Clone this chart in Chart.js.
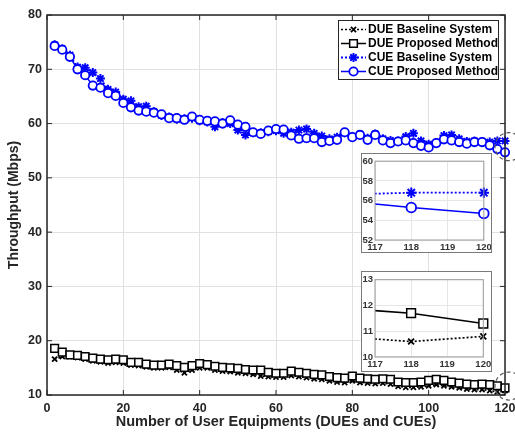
<!DOCTYPE html>
<html>
<head>
<meta charset="utf-8">
<script src="https://cdn.jsdelivr.net/npm/chart.js@4.4.1/dist/chart.umd.min.js"></script>
<style>
  html, body { margin: 0; padding: 0; background: #fff; }
  #wrap { position: relative; width: 515px; height: 432px; overflow: hidden; }
  #main { position: absolute; left: 0; top: 0; }
  .inset { position: absolute; background: #fff; border: 1px solid #7a7a7a; }
  .inset canvas { position: absolute; left: 0; top: 0; }
</style>
</head>
<body>
<div id="wrap">
  <canvas id="main" width="515" height="432"></canvas>
  <div class="inset" style="left:361px;top:153px;width:129px;height:98px"><canvas id="zoomCue" width="129" height="98"></canvas></div>
  <div class="inset" style="left:361px;top:271px;width:129px;height:99px"><canvas id="zoomDue" width="129" height="99"></canvas></div>
</div>
<script>
// number of UEs on the x axis
const userCounts = [2, 4, 6, 8, 10, 12, 14, 16, 18, 20, 22, 24, 26, 28, 30, 32, 34, 36, 38, 40,
  42, 44, 46, 48, 50, 52, 54, 56, 58, 60, 62, 64, 66, 68, 70, 72, 74, 76, 78, 80,
  82, 84, 86, 88, 90, 92, 94, 96, 98, 100, 102, 104, 106, 108, 110, 112, 114, 116, 118, 120];

// throughput in Mbps
const dueBaseline = [16.6, 17.1, 17.1, 16.9, 16.6, 16.3, 16.1, 15.9, 16.0, 15.9, 15.5, 15.4, 15.2, 15.0, 15.0, 15.1, 14.6, 14.1, 14.6, 15.0,
  15.0, 14.6, 14.4, 14.3, 14.1, 14.0, 13.8, 13.5, 13.4, 13.3, 13.3, 13.6, 13.4, 13.2, 13.0, 12.9, 12.6, 12.4, 12.3, 12.6,
  12.3, 12.2, 12.1, 12.2, 12.0, 11.6, 11.4, 11.4, 11.5, 11.7, 11.9, 11.7, 11.5, 11.3, 11.1, 11.0, 11.0, 10.8, 10.6, 10.8];
const dueProposed = [18.6, 17.9, 17.4, 17.3, 17.1, 16.8, 16.6, 16.5, 16.6, 16.5, 16.0, 16.0, 15.7, 15.5, 15.5, 15.7, 15.4, 15.1, 15.4, 15.8,
  15.6, 15.3, 15.1, 15.0, 14.9, 14.7, 14.6, 14.6, 14.2, 14.0, 14.0, 14.4, 14.2, 14.0, 13.8, 13.7, 13.4, 13.2, 13.1, 13.5,
  13.1, 13.0, 12.9, 13.0, 12.9, 12.4, 12.3, 12.3, 12.4, 12.7, 12.9, 12.7, 12.4, 12.2, 12.0, 11.9, 12.0, 11.9, 11.7, 11.3];
const cueBaseline = [74.5, 73.8, 72.6, 70.4, 70.3, 69.4, 68.3, 66.3, 65.8, 64.5, 64.2, 63.1, 63.2, 62.2, 61.5, 61.2, 60.8, 60.9, 61.0, 60.5,
  60.3, 59.4, 60.2, 60.0, 58.8, 57.9, 58.3, 58.3, 58.5, 58.7, 58.2, 58.4, 58.8, 59.0, 58.2, 57.7, 57.2, 57.5, 58.3, 57.5,
  58.0, 57.3, 58.1, 57.2, 56.9, 56.8, 57.6, 58.2, 56.8, 56.2, 56.5, 57.8, 57.9, 57.2, 56.7, 56.8, 56.7, 56.6, 56.8, 56.8];
const cueProposed = [74.3, 73.6, 72.3, 70.0, 68.9, 67.0, 66.6, 65.6, 65.1, 63.8, 63.0, 62.4, 62.2, 62.0, 61.7, 61.0, 61.0, 60.7, 61.3, 60.7,
  60.5, 60.4, 60.0, 60.6, 59.8, 59.4, 58.4, 58.1, 58.7, 59.0, 58.9, 57.8, 57.2, 57.3, 57.3, 56.6, 56.8, 57.0, 58.4, 57.5,
  57.9, 57.0, 57.9, 56.9, 56.4, 56.7, 56.9, 56.4, 55.9, 55.6, 56.4, 57.1, 56.9, 56.6, 56.3, 56.6, 56.6, 56.0, 55.3, 54.7];

const seriesNames = ["DUE Baseline System", "DUE Proposed Method", "CUE Baseline System", "CUE Proposed Method"];

Chart.defaults.font.family = "'Liberation Sans', Arial, sans-serif";
Chart.defaults.font.weight = "bold";
Chart.defaults.color = "#262626";

function toPoints(values) {
  let pts = [];
  for (let i = 0; i < userCounts.length; i++) {
    pts.push({ x: userCounts[i], y: values[i] });
  }
  return pts;
}

// big = marker sizes for main plot, insets use a bit bigger ones
function makeSets(big) {
  let k = big ? 1 : 1.15;
  return [
    { label: seriesNames[0], data: toPoints(dueBaseline), borderColor: "#000", borderWidth: 1.7, borderDash: [2, 2],
      pointStyle: "crossRot", pointRadius: 3.6 * k, pointBorderWidth: 1.8, pointBackgroundColor: "#000", order: 3 },
    { label: seriesNames[1], data: toPoints(dueProposed), borderColor: "#000", borderWidth: 1.5,
      pointStyle: "rect", pointRadius: 5.4 * k, pointBorderWidth: 1.5, pointBackgroundColor: "#fff", order: 2 },
    { label: seriesNames[2], data: toPoints(cueBaseline), borderColor: "#0000ff", borderWidth: 1.8, borderDash: [2, 2],
      pointStyle: "star", pointRadius: 4.5 * k, pointBorderWidth: 2, pointBackgroundColor: "#0000ff", order: 1 },
    { label: seriesNames[3], data: toPoints(cueProposed), borderColor: "#0000ff", borderWidth: 1.5,
      pointStyle: "circle", pointRadius: 4.2 * k, pointBorderWidth: 1.8, pointBackgroundColor: "#fff", order: 0 }
  ];
}

// box, inward ticks, legend and the dashed circles
const decorPlugin = {
  id: "decor",
  afterDraw(chart) {
    const ctx = chart.ctx;
    const a = chart.chartArea;
    const sx = chart.scales.x, sy = chart.scales.y;
    ctx.save();
    ctx.strokeStyle = "#262626";
    ctx.lineWidth = 1.5;
    ctx.strokeRect(a.left, a.top, a.right - a.left, a.bottom - a.top);
    ctx.lineWidth = 1;
    ctx.beginPath();
    sx.ticks.forEach(t => {
      let px = sx.getPixelForValue(t.value);
      ctx.moveTo(px, a.bottom); ctx.lineTo(px, a.bottom - 5);
      ctx.moveTo(px, a.top); ctx.lineTo(px, a.top + 5);
    });
    sy.ticks.forEach(t => {
      let py = sy.getPixelForValue(t.value);
      ctx.moveTo(a.left, py); ctx.lineTo(a.left + 5, py);
      ctx.moveTo(a.right, py); ctx.lineTo(a.right - 5, py);
    });
    ctx.stroke();

    // legend
    const lx = 338.5, ly = 20.5, lw = 160, lh = 59;
    ctx.fillStyle = "#fff";
    ctx.fillRect(lx, ly, lw, lh);
    ctx.strokeStyle = "#262626";
    ctx.lineWidth = 1;
    ctx.strokeRect(lx, ly, lw, lh);
    ctx.font = "bold 12px 'Liberation Sans', Arial, sans-serif";
    ctx.textBaseline = "middle";
    chart.data.datasets.forEach((ds, i) => {
      let y = 29.5 + 14 * i;
      ctx.strokeStyle = ds.borderColor;
      ctx.lineWidth = ds.borderWidth;
      ctx.setLineDash(ds.borderDash || []);
      ctx.beginPath();
      ctx.moveTo(341, y); ctx.lineTo(366, y);
      ctx.stroke();
      ctx.setLineDash([]);
      ctx.fillStyle = ds.pointBackgroundColor;
      ctx.lineWidth = ds.pointBorderWidth;
      Chart.helpers.drawPoint(ctx, { pointStyle: ds.pointStyle, radius: ds.pointRadius, rotation: 0, borderWidth: ds.pointBorderWidth }, 353.5, y);
      ctx.fillStyle = "#000";
      ctx.fillText(ds.label, 368, y + 0.5);
    });

    // dashed circles marking the zoomed regions
    const last = userCounts.length - 1;
    const marks = [(cueBaseline[last] + cueProposed[last]) / 2, (dueBaseline[last] + dueProposed[last]) / 2 + 0.6];
    ctx.strokeStyle = "#555";
    ctx.lineWidth = 1.2;
    ctx.setLineDash([4, 3]);
    marks.forEach(v => {
      ctx.beginPath();
      ctx.arc(sx.getPixelForValue(120) + 4, sy.getPixelForValue(v), 14, 0, Math.PI * 2);
      ctx.stroke();
    });
    ctx.restore();
  }
};

new Chart(document.getElementById("main"), {
  type: "line",
  data: { datasets: makeSets(true) },
  options: {
    responsive: false,
    animation: false,
    clip: false,
    layout: { padding: { top: 15, right: 10, left: 0, bottom: 0 } },
    plugins: { legend: { display: false }, tooltip: { enabled: false } },
    scales: {
      x: {
        type: "linear", min: 0, max: 120,
        ticks: { stepSize: 20, padding: 6, font: { size: 12.5, weight: "bold" } },
        grid: { color: "#e1e1e1", drawTicks: false },
        border: { display: false },
        title: { display: true, text: "Number of User Equipments (DUEs and CUEs)", font: { size: 14.5, weight: "bold" }, padding: { top: 0, bottom: 1 } },
        afterFit: s => { s.height = 37; s.paddingLeft = 0; s.paddingRight = 0; }
      },
      y: {
        min: 10, max: 80,
        ticks: { stepSize: 10, padding: 5, font: { size: 12.5, weight: "bold" } },
        grid: { color: "#e1e1e1", drawTicks: false },
        border: { display: false },
        title: { display: true, text: "Throughput (Mbps)", font: { size: 14, weight: "bold" }, padding: { top: 6, bottom: 0 } },
        afterFit: s => { s.width = 47; s.paddingTop = 0; s.paddingBottom = 0; }
      }
    }
  },
  plugins: [decorPlugin]
});

// gray box around the inset axes
const insetBox = {
  id: "insetBox",
  afterDraw(chart) {
    const a = chart.chartArea, ctx = chart.ctx;
    ctx.save();
    ctx.strokeStyle = "#9a9a9a";
    ctx.lineWidth = 1;
    ctx.strokeRect(a.left, a.top, a.right - a.left, a.bottom - a.top);
    ctx.restore();
  }
};

function makeInset(id, pick, yMin, yMax, yStep, topPad, xH) {
  let sets = makeSets(false).filter((d, i) => pick.indexOf(i) >= 0);
  sets.forEach(d => { d.clip = { left: 0, top: 8, right: 8, bottom: 8 }; });
  new Chart(document.getElementById(id), {
    type: "line",
    data: { datasets: sets },
    options: {
      responsive: false,
      animation: false,
      layout: { padding: { top: topPad, right: 7, left: 0, bottom: 0 } },
      plugins: { legend: { display: false }, tooltip: { enabled: false } },
      scales: {
        x: {
          type: "linear", min: 117, max: 120,
          ticks: { stepSize: 1, padding: 2, color: "#333", font: { size: 9.5, weight: "bold" } },
          grid: { color: "#e6e6e6", drawTicks: false },
          border: { display: false },
          afterFit: s => { s.height = xH; s.paddingLeft = 0; s.paddingRight = 0; }
        },
        y: {
          min: yMin, max: yMax,
          ticks: { stepSize: yStep, padding: 2, color: "#333", font: { size: 9.5, weight: "bold" } },
          grid: { color: "#e6e6e6", drawTicks: false },
          border: { display: false },
          afterFit: s => { s.width = 13; s.paddingTop = 0; s.paddingBottom = 0; }
        }
      }
    },
    plugins: [insetBox]
  });
}

makeInset("zoomCue", [2, 3], 52, 60, 2, 3, 12);
makeInset("zoomDue", [0, 1], 10, 13, 1, 5, 14);
</script>
</body>
</html>
